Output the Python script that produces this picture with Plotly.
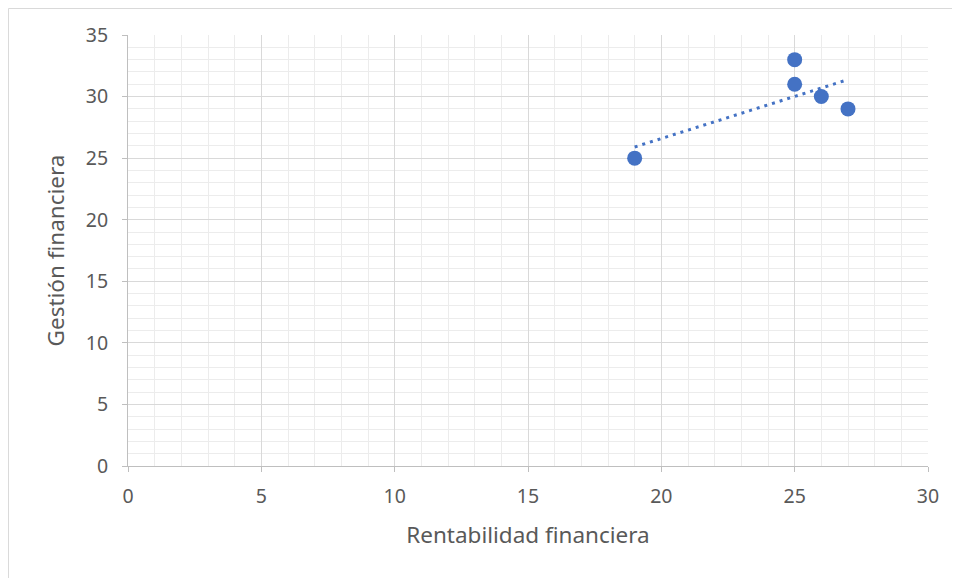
import numpy as np
import plotly.graph_objects as go

# Rentabilidad financiera (x) vs Gestión financiera (y)
rentabilidad = [19, 25, 25, 26, 27]
gestion = [25, 33, 31, 30, 29]

x_ticks = [0, 5, 10, 15, 20, 25, 30]
y_ticks = [0, 5, 10, 15, 20, 25, 30, 35]

BLUE = "#4472C4"
TEXT = "#595959"
FONT = "'Noto Sans', 'Open Sans', sans-serif"

# linear trendline (as Excel does)
slope, intercept = np.polyfit(rentabilidad, gestion, 1)
tx = np.array([min(rentabilidad), max(rentabilidad)])
ty = slope * tx + intercept

fig = go.Figure()
fig.add_trace(go.Scatter(
    x=tx, y=ty, mode="lines",
    line=dict(color=BLUE, width=3, dash="3px,5px"),
    hoverinfo="skip", showlegend=False,
))
fig.add_trace(go.Scatter(
    x=rentabilidad, y=gestion, mode="markers",
    marker=dict(color=BLUE, size=15),
    showlegend=False,
))

axis_common = dict(
    showline=True, linecolor="#bfbfbf", linewidth=1,
    ticks="outside", ticklen=5, tickcolor="#bfbfbf",
    gridcolor="#d9d9d9", gridwidth=1,
    zeroline=False,
    tickfont=dict(family=FONT, size=19.5, color=TEXT),
    minor=dict(dtick=1, showgrid=True, gridcolor="#ececec", gridwidth=1, ticks=""),
)

fig.update_xaxes(
    range=[0, 30], tickvals=x_ticks, ticklabelstandoff=8,
    title=dict(text="Rentabilidad financiera", font=dict(family=FONT, size=22.5, color=TEXT), standoff=18),
    **axis_common,
)
fig.update_yaxes(
    range=[0, 35], tickvals=y_ticks, ticklabelstandoff=10,
    title=dict(text="Gestión financiera", font=dict(family=FONT, size=22.5, color=TEXT), standoff=14),
    **axis_common,
)

# the page sits 8px in from the window corner, so margins are trimmed by 8
fig.update_layout(
    width=960, height=578,
    margin=dict(l=120, r=40, t=27, b=120),
    plot_bgcolor="white", paper_bgcolor="white",
    shapes=[dict(
        type="rect", xref="paper", yref="paper",
        x0=-0.1494, x1=1.06, y0=-0.35, y1=1.0615,
        line=dict(color="#d9d9d9", width=1),
    )],
)

fig.write_html("out.html")
